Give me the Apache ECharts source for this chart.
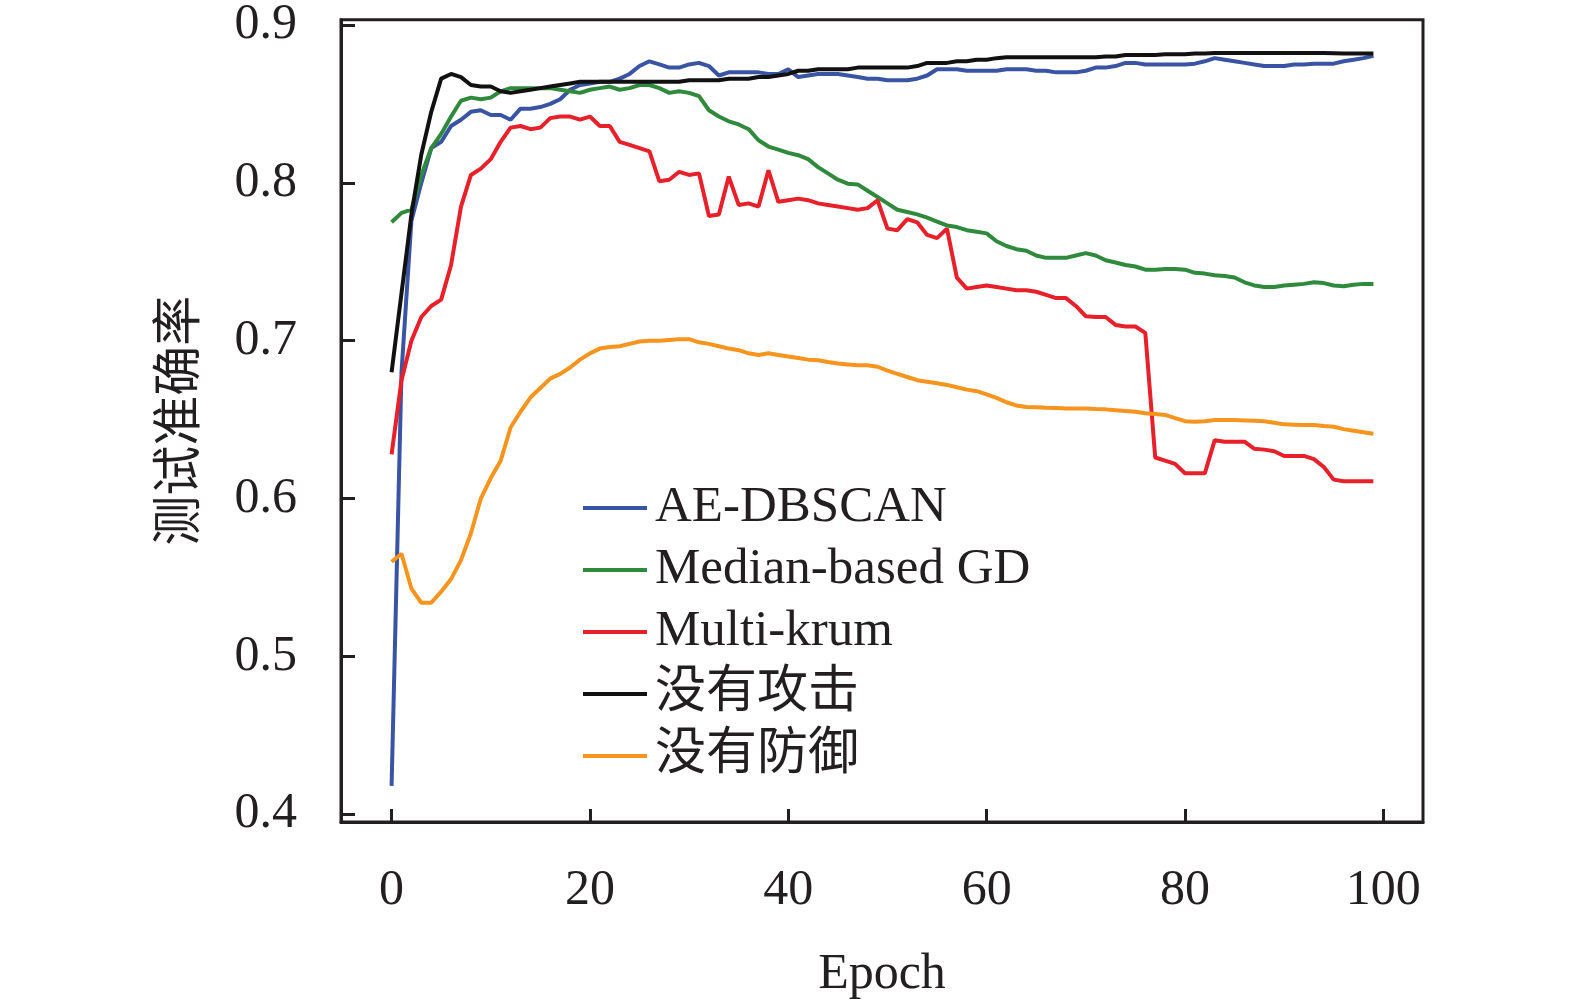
<!DOCTYPE html>
<html>
<head>
<meta charset="utf-8">
<title>测试准确率</title>
<script src="https://cdn.jsdelivr.net/npm/echarts@6/dist/echarts.min.js"></script>
<style>
    html, body {margin: 0; padding: 0; background: #fff;}
    #chart {width: 1575px; height: 1005px;}
</style>
</head>
<body>
<div id="chart"></div>
<script>
// 横轴刻度
var xTicks = [0, 20, 40, 60, 80, 100];
var yTicks = [0.4, 0.5, 0.6, 0.7, 0.8, 0.9];
var seriesNames = ['AE-DBSCAN', 'Median-based GD', 'Multi-krum', '没有攻击', '没有防御'];

// 各方法每个 epoch 的测试准确率 (epoch 0 ~ 99)
var aeDbscan = [
    0.418, 0.680, 0.776, 0.800, 0.822, 0.826, 0.836, 0.840, 0.845, 0.846,
    0.843, 0.843, 0.840, 0.847, 0.847, 0.848, 0.850, 0.853, 0.859, 0.862,
    0.863, 0.864, 0.864, 0.866, 0.869, 0.874, 0.877, 0.875, 0.873, 0.873,
    0.875, 0.876, 0.874, 0.868, 0.870, 0.870, 0.870, 0.870, 0.869, 0.869,
    0.872, 0.867, 0.868, 0.869, 0.869, 0.869, 0.868, 0.867, 0.866, 0.866,
    0.865, 0.865, 0.865, 0.866, 0.868, 0.872, 0.872, 0.872, 0.871, 0.871,
    0.871, 0.871, 0.872, 0.872, 0.872, 0.871, 0.871, 0.870, 0.870, 0.870,
    0.871, 0.873, 0.873, 0.874, 0.876, 0.876, 0.875, 0.875, 0.875, 0.875,
    0.875, 0.8755, 0.877, 0.879, 0.878, 0.877, 0.876, 0.875, 0.874, 0.874,
    0.874, 0.875, 0.875, 0.8755, 0.8755, 0.8755, 0.877, 0.878, 0.879, 0.8805
];
var medianGd = [
    0.775, 0.781, 0.783, 0.805, 0.822, 0.831, 0.842, 0.852, 0.854, 0.853,
    0.854, 0.858, 0.860, 0.860, 0.860, 0.860, 0.860, 0.859, 0.858, 0.857,
    0.859, 0.860, 0.861, 0.859, 0.860, 0.862, 0.862, 0.860, 0.857, 0.858,
    0.857, 0.855, 0.846, 0.842, 0.839, 0.837, 0.834, 0.827, 0.823, 0.821,
    0.819, 0.8175, 0.815, 0.810, 0.806, 0.802, 0.7995, 0.799, 0.795, 0.791,
    0.787, 0.783, 0.7815, 0.780, 0.778, 0.7755, 0.773, 0.772, 0.770, 0.769,
    0.768, 0.763, 0.760, 0.758, 0.757, 0.754, 0.7525, 0.7525, 0.7525, 0.754,
    0.7555, 0.754, 0.751, 0.7495, 0.748, 0.747, 0.745, 0.745, 0.7455, 0.7455,
    0.745, 0.743, 0.7425, 0.7415, 0.741, 0.740, 0.737, 0.735, 0.734, 0.734,
    0.735, 0.7355, 0.736, 0.737, 0.7365, 0.735, 0.7345, 0.7355, 0.736, 0.736
];
var multiKrum = [
    0.628, 0.675, 0.700, 0.715, 0.722, 0.726, 0.748, 0.785, 0.805, 0.809,
    0.815, 0.826, 0.835, 0.836, 0.834, 0.835, 0.841, 0.842, 0.842, 0.840,
    0.842, 0.836, 0.836, 0.826, 0.824, 0.822, 0.820, 0.801, 0.802, 0.807,
    0.805, 0.806, 0.779, 0.780, 0.804, 0.786, 0.787, 0.785, 0.808, 0.788,
    0.789, 0.790, 0.789, 0.787, 0.786, 0.785, 0.784, 0.783, 0.784, 0.789,
    0.771, 0.770, 0.777, 0.775, 0.767, 0.765, 0.771, 0.740, 0.733, 0.734,
    0.735, 0.734, 0.733, 0.732, 0.732, 0.731, 0.729, 0.727, 0.727, 0.722,
    0.7155, 0.715, 0.715, 0.710, 0.709, 0.709, 0.705, 0.626, 0.624, 0.622,
    0.616, 0.616, 0.616, 0.637, 0.636, 0.636, 0.636, 0.6315, 0.631, 0.630,
    0.627, 0.627, 0.627, 0.625, 0.620, 0.612, 0.611, 0.611, 0.611, 0.611
];
var noAttack = [
    0.680, 0.730, 0.780, 0.818, 0.845, 0.866, 0.869, 0.867, 0.862, 0.861,
    0.861, 0.858, 0.857, 0.858, 0.859, 0.860, 0.861, 0.862, 0.863, 0.864,
    0.864, 0.864, 0.864, 0.864, 0.864, 0.864, 0.864, 0.864, 0.864, 0.864,
    0.865, 0.865, 0.865, 0.865, 0.866, 0.866, 0.866, 0.867, 0.867, 0.868,
    0.869, 0.871, 0.871, 0.872, 0.872, 0.872, 0.872, 0.873, 0.873, 0.873,
    0.873, 0.873, 0.873, 0.874, 0.876, 0.876, 0.876, 0.877, 0.877, 0.878,
    0.878, 0.879, 0.8795, 0.8795, 0.8795, 0.8795, 0.8795, 0.8795, 0.8795, 0.8795,
    0.8795, 0.8795, 0.880, 0.880, 0.881, 0.881, 0.881, 0.881, 0.8815, 0.8815,
    0.8815, 0.882, 0.882, 0.8823, 0.8823, 0.8823, 0.8823, 0.8823, 0.8823, 0.8823,
    0.8823, 0.8823, 0.8823, 0.8823, 0.8822, 0.8821, 0.882, 0.882, 0.882, 0.882
];
var noDefense = [
    0.560, 0.565, 0.543, 0.534, 0.534, 0.541, 0.549, 0.561, 0.578, 0.600,
    0.613, 0.624, 0.645, 0.655, 0.664, 0.670, 0.676, 0.679, 0.683, 0.688,
    0.692, 0.695, 0.696, 0.6965, 0.698, 0.6995, 0.700, 0.700, 0.7005, 0.701,
    0.701, 0.699, 0.698, 0.6965, 0.695, 0.694, 0.692, 0.691, 0.692, 0.691,
    0.690, 0.689, 0.688, 0.6876, 0.6865, 0.6855, 0.685, 0.6845, 0.6845, 0.6835,
    0.681, 0.679, 0.677, 0.675, 0.674, 0.673, 0.672, 0.6705, 0.669, 0.668,
    0.666, 0.6638, 0.661, 0.659, 0.658, 0.6578, 0.6575, 0.6573, 0.657, 0.657,
    0.657, 0.6567, 0.6565, 0.656, 0.6555, 0.655, 0.654, 0.6535, 0.653, 0.651,
    0.649, 0.6487, 0.649, 0.6497, 0.6497, 0.6497, 0.6495, 0.6493, 0.649, 0.648,
    0.647, 0.6468, 0.6466, 0.6466, 0.646, 0.6455, 0.644, 0.643, 0.642, 0.641
];

var colors = ['#3a54a4', '#2f8a3c', '#e8202a', '#111111', '#f7941d'];
var inkColor = '#231f20';
var fontFamily = '"Liberation Serif", "Times New Roman", "Noto Sans CJK SC", serif';

function toPoints(values) {
    return values.map(function (v, i) {
        return [i, v];
    });
}

var allValues = [aeDbscan, medianGd, multiKrum, noAttack, noDefense];

var chart = echarts.init(document.getElementById('chart'));
var option = {
    animation: false,
    backgroundColor: '#fff',
    color: colors,
    grid: {
        left: 341,
        right: 152,
        top: 19,
        bottom: 183,
        show: true,
        borderColor: inkColor,
        borderWidth: 3
    },
    legend: {
        orient: 'vertical',
        left: 578,
        top: 477,
        icon: 'rect',
        itemWidth: 64,
        itemHeight: 4,
        itemGap: 10,
        selectedMode: false,
        data: seriesNames,
        textStyle: {
            fontFamily: fontFamily,
            fontSize: 51,
            lineHeight: 52,
            color: inkColor,
            padding: [0, 0, 0, 3]
        }
    },
    xAxis: {
        type: 'value',
        min: -5.1,
        max: 104,
        name: 'Epoch',
        nameLocation: 'middle',
        nameGap: 128,
        nameTextStyle: {fontFamily: fontFamily, fontSize: 50, color: inkColor},
        splitLine: {show: false},
        axisLine: {show: true, onZero: false, lineStyle: {color: inkColor, width: 3}},
        axisTick: {
            show: true,
            inside: true,
            length: 13,
            lineStyle: {color: inkColor, width: 3},
            customValues: xTicks
        },
        axisLabel: {
            fontFamily: fontFamily,
            fontSize: 50,
            color: inkColor,
            margin: 44,
            customValues: xTicks
        }
    },
    yAxis: {
        type: 'value',
        min: 0.3951,
        max: 0.9034,
        name: '测试准确率',
        nameLocation: 'middle',
        nameGap: 140,
        nameTextStyle: {fontFamily: '"Noto Sans CJK SC", sans-serif', fontSize: 50, color: inkColor},
        splitLine: {show: false},
        axisLine: {show: true, onZero: false, lineStyle: {color: inkColor, width: 3}},
        axisTick: {
            show: true,
            inside: true,
            length: 14,
            lineStyle: {color: inkColor, width: 3},
            customValues: yTicks
        },
        axisLabel: {
            fontFamily: fontFamily,
            fontSize: 50,
            color: inkColor,
            margin: 44,
            customValues: yTicks,
            formatter: function (v) {
                return v.toFixed(1);
            }
        }
    },
    series: seriesNames.map(function (name, k) {
        return {
            name: name,
            type: 'line',
            symbol: 'none',
            data: toPoints(allValues[k]),
            lineStyle: {width: 4, color: colors[k]},
            itemStyle: {color: colors[k]}
        };
    })
};
chart.setOption(option);
</script>
</body>
</html>
